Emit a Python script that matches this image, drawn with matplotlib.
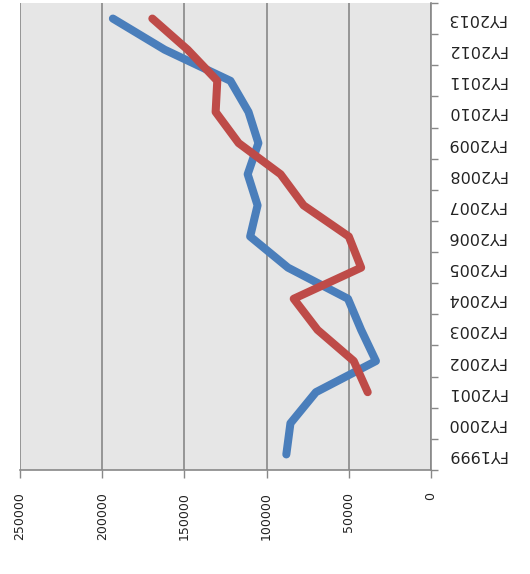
import matplotlib.pyplot as plt
import numpy as np

years = ["FY1999", "FY2000", "FY2001", "FY2002", "FY2003", "FY2004", "FY2005",
         "FY2006", "FY2007", "FY2008", "FY2009", "FY2010", "FY2011", "FY2012", "FY2013"]
blue_vals = [88000, 85500, 70000, 33500, 42500, 50500, 87000, 110000, 105500,
             111500, 105000, 111000, 122000, 162000, 193500]
red_vals = [np.nan, np.nan, 38500, 47000, 69000, 83500, 42500, 50000, 77500,
            91500, 117000, 131000, 130000, 148000, 169500]
xticks = [0, 50000, 100000, 150000, 200000, 250000]

W, H = 530, 574
fig = plt.figure(figsize=(W / 100, H / 100), dpi=100)
ax = fig.add_axes([20 / W, (H - 470) / H, (431 - 20) / W, (470 - 3) / H])
ax.set_facecolor("#e6e6e6")

pos = np.arange(len(years))
ax.plot(blue_vals, pos, color="#4a7ebb", lw=5.8, solid_capstyle="round",
        solid_joinstyle="round", zorder=3)
ax.plot(red_vals, pos, color="#be4b48", lw=5.8, solid_capstyle="round",
        solid_joinstyle="round", zorder=4)

ax.set_xlim(250000, 0)
ax.set_ylim(-0.5, len(years) - 0.5)

ax.set_xticks(xticks)
ax.set_xticklabels([str(v) for v in xticks], rotation=90, fontsize=9, color="#222222")
ax.tick_params(axis="x", direction="out", length=6, width=1, color="#888888", pad=10)
ax.grid(axis="x", color="#888888", lw=1.2)
ax.set_axisbelow(True)

ax.yaxis.tick_right()
ax.set_yticks(pos)
ax.set_yticklabels(years, rotation=180, fontsize=11.5, color="#222222")
ax.set_yticks(np.arange(-0.5, len(years), 1.0), minor=True)
ax.tick_params(axis="y", which="major", length=0, pad=11)
ax.tick_params(axis="y", which="minor", length=5, width=1, color="#888888", direction="out")
for lab in ax.get_yticklabels():
    lab.set_ha("left")
    lab.set_va("center")

for s in ["top", "left"]:
    ax.spines[s].set_visible(False)
for s in ["right", "bottom"]:
    ax.spines[s].set_color("#888888")
    ax.spines[s].set_linewidth(1.2)

fig.savefig("out.png", dpi=100, facecolor="white")
